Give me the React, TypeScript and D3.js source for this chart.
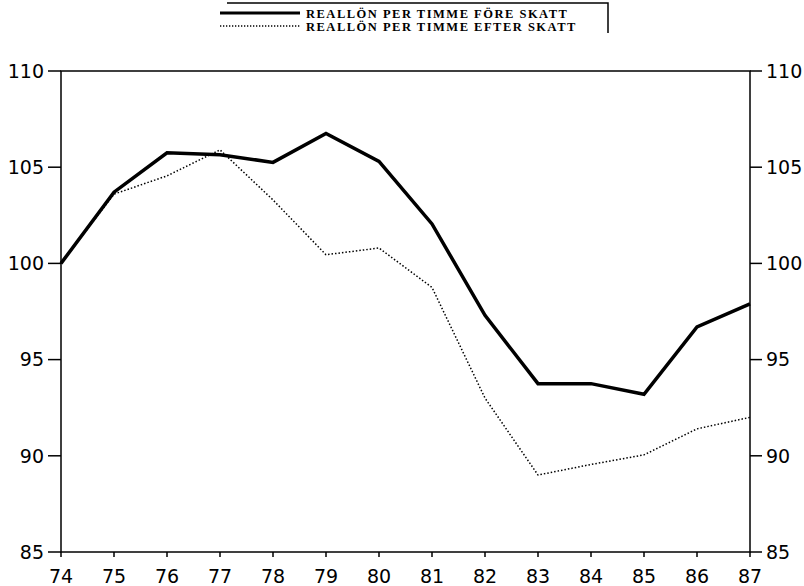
import React from "react";
import * as d3 from "d3";

const years = [74, 75, 76, 77, 78, 79, 80, 81, 82, 83, 84, 85, 86, 87];
const foreSkatt = [100, 103.7, 105.75, 105.65, 105.25, 106.75, 105.3, 102.05, 97.3, 93.75, 93.75, 93.2, 96.7, 97.9];
const efterSkatt = [100, 103.6, 104.55, 105.9, 103.3, 100.45, 100.8, 98.75, 93.0, 89.0, 89.55, 90.05, 91.4, 92.0];
const yTicks = [85, 90, 95, 100, 105, 110];
const legendLabels = ["REALLÖN PER TIMME FÖRE SKATT", "REALLÖN PER TIMME EFTER SKATT"];

const W = 804;
const H = 586;
const left = 61;
const right = 750;
const top = 71;
const bottom = 552;

export default function App() {
  const x = d3.scaleLinear().domain([74, 87]).range([left, right]);
  const y = d3.scaleLinear().domain([85, 110]).range([bottom, top]);
  const line = d3
    .line<number>()
    .x((_, i) => x(years[i]))
    .y((d) => y(d));
  const axisFont = "'DejaVu Sans', sans-serif";
  return (
    <svg
      width={W}
      height={H}
      style={{ position: "absolute", left: 0, top: 0, background: "#fff" }}
    >
      {/* legend */}
      <g>
        <path d="M227,3 H608 V33" fill="none" stroke="#000" strokeWidth={1.5} />
        <line x1={220} x2={300} y1={13} y2={13} stroke="#000" strokeWidth={3} />
        <line x1={220} x2={300} y1={26} y2={26} stroke="#000" strokeWidth={1.3} strokeDasharray="1.3,1.7" />
        {legendLabels.map((t, i) => (
          <text
            key={t}
            x={306}
            y={17.5 + i * 13.5}
            fontFamily="'Liberation Serif', serif"
            fontWeight="bold"
            fontSize={12.5}
            letterSpacing={1.5}
            fill="#000"
          >
            {t}
          </text>
        ))}
      </g>
      {/* frame */}
      <rect x={left} y={top} width={right - left} height={bottom - top} fill="none" stroke="#000" strokeWidth={1.5} />
      {/* y ticks left & right */}
      {yTicks.map((v) => (
        <g key={v}>
          <line x1={left - 13} x2={left} y1={y(v)} y2={y(v)} stroke="#000" strokeWidth={1.5} />
          <text x={left - 17} y={y(v)} dy="0.36em" textAnchor="end" fontFamily={axisFont} fontSize={19} fill="#000">
            {v}
          </text>
          <line x1={right} x2={right + 12} y1={y(v)} y2={y(v)} stroke="#000" strokeWidth={1.5} />
          <text x={right + 16} y={y(v)} dy="0.36em" textAnchor="start" fontFamily={axisFont} fontSize={19} fill="#000">
            {v}
          </text>
        </g>
      ))}
      {/* x ticks */}
      {years.map((yr) => (
        <g key={yr}>
          <line x1={x(yr)} x2={x(yr)} y1={bottom} y2={bottom + 5} stroke="#000" strokeWidth={1.5} />
          <text x={x(yr)} y={bottom + 31} textAnchor="middle" fontFamily={axisFont} fontSize={19} fill="#000">
            {yr}
          </text>
        </g>
      ))}
      {/* series */}
      <path d={line(efterSkatt) || ""} fill="none" stroke="#000" strokeWidth={1.5} strokeDasharray="1.5,2" />
      <path d={line(foreSkatt) || ""} fill="none" stroke="#000" strokeWidth={3.5} strokeLinejoin="miter" />
    </svg>
  );
}
